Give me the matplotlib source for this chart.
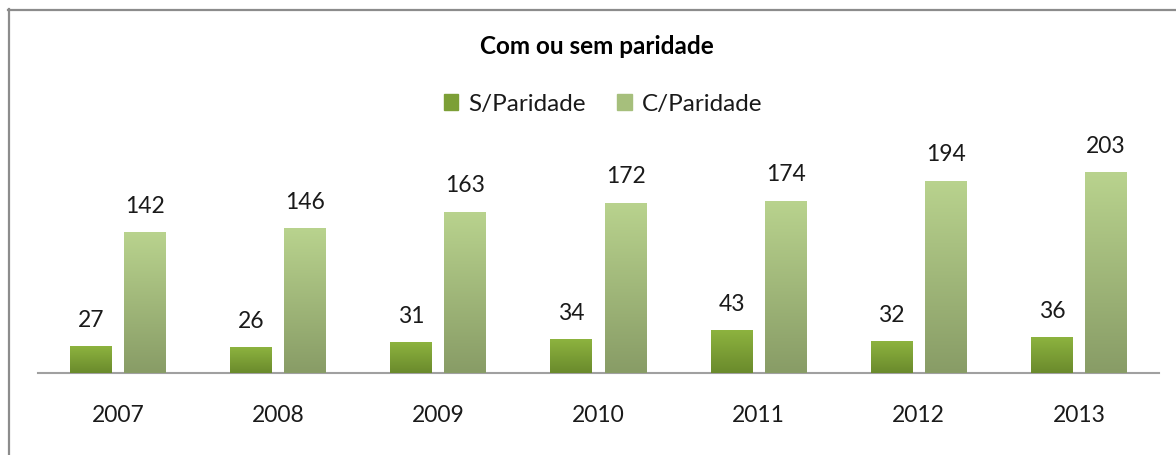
import matplotlib
matplotlib.use("Agg")
import matplotlib.pyplot as plt
import numpy as np
from matplotlib.lines import Line2D
from matplotlib.colors import LinearSegmentedColormap

years = ["2007", "2008", "2009", "2010", "2011", "2012", "2013"]
sem_paridade = [27, 26, 31, 34, 43, 32, 36]
com_paridade = [142, 146, 163, 172, 174, 194, 203]
title = "Com ou sem paridade"
series_names = ["S/Paridade", "C/Paridade"]

W, H = 1176, 455
fig = plt.figure(figsize=(W / 100, H / 100), dpi=100)
plt.rcParams['font.family'] = ['Lato', 'DejaVu Sans']

ax = fig.add_axes([38 / W, (H - 373) / H, (1159 - 38) / W, 237.6 / H])
ax.set_xlim(-0.5, 6.5)
ax.set_ylim(0, 240)

x = np.arange(len(years))
off = 0.169
bw = 0.262

cm_s = LinearSegmentedColormap.from_list("s", ["#6a8a2c", "#8db33f"])
cm_c = LinearSegmentedColormap.from_list("c", ["#889c66", "#b9d38e"])
grad = np.linspace(0, 1, 256).reshape(-1, 1)

bars_s = ax.bar(x - off, sem_paridade, width=bw, color="#7c9f36", zorder=2)
bars_c = ax.bar(x + off, com_paridade, width=bw, color="#a6bf7c", zorder=2)

for bars, cm in ((bars_s, cm_s), (bars_c, cm_c)):
    for p in bars:
        x0, y0 = p.get_x(), p.get_y()
        w, h = p.get_width(), p.get_height()
        im = ax.imshow(grad, extent=(x0, x0 + w, y0, y0 + h), origin="lower",
                       cmap=cm, aspect="auto", zorder=3)
        im.set_clip_path(p)
        ax.text(x0 + w / 2, h + 26 / 0.99, str(int(h)), ha="center", va="center",
                fontsize=16.5, color="#1a1a1a", zorder=4)

ax.set_xlim(-0.5, 6.5)
ax.set_ylim(0, 240)
for s in ["top", "right", "left"]:
    ax.spines[s].set_visible(False)
ax.spines["bottom"].set_color("#a0a0a0")
ax.spines["bottom"].set_linewidth(1.5)
ax.set_yticks([])
ax.set_xticks(x)
ax.set_xticklabels(years, fontsize=16.5, color="#1a1a1a")
ax.tick_params(axis="x", length=0, pad=23)

fig.text(597 / W, 1 - 47 / H, title, ha="center", va="center",
         fontsize=17.5, fontweight="bold", color="#000000")

handles = [plt.Rectangle((0, 0), 1, 1, color="#7c9f36"),
           plt.Rectangle((0, 0), 1, 1, color="#a6bf7c")]
leg = fig.legend(handles, series_names, loc="center", bbox_to_anchor=(603 / W, 1 - 104 / H),
                 ncol=2, frameon=False, fontsize=17.5, handlelength=0.6, handleheight=0.6,
                 handletextpad=0.4, columnspacing=1.3)
for t in leg.get_texts():
    t.set_color("#1a1a1a")

fig.add_artist(Line2D([8 / W, 1.0], [1 - 9.5 / H, 1 - 9.5 / H], color="#8c8c8c", lw=1.6,
                      transform=fig.transFigure))
fig.add_artist(Line2D([8.5 / W, 8.5 / W], [0, 1 - 9 / H], color="#8c8c8c", lw=1.6,
                      transform=fig.transFigure))

fig.savefig("out.png", dpi=100)
